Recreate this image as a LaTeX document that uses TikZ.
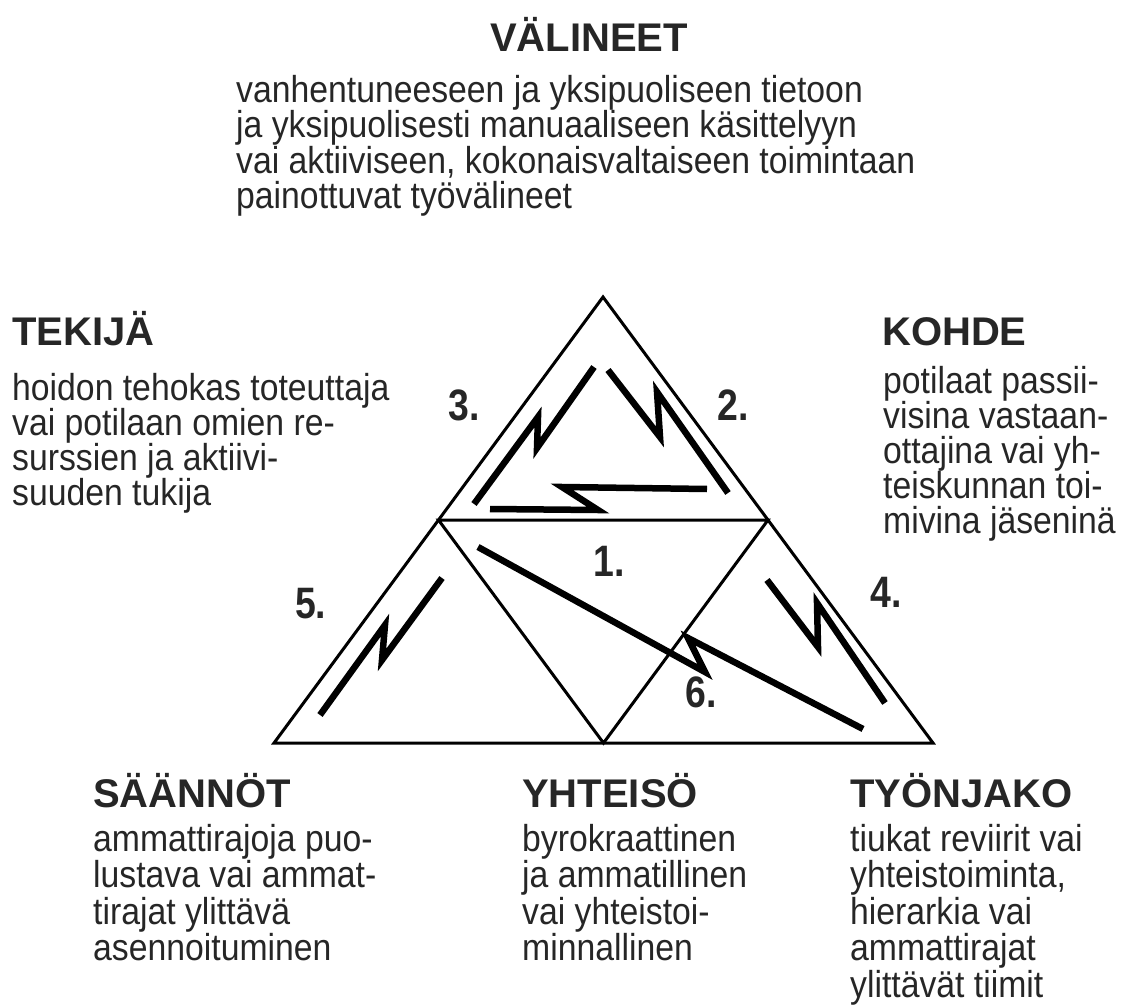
\documentclass[tikz,border=0pt]{standalone}
\usepackage{fontspec}
\setmainfont{Liberation Sans}
\newfontfamily\narrowfont[FakeStretch=0.9]{Liberation Sans}
\newfontfamily\numfont[FakeStretch=0.85]{Liberation Sans}
\usetikzlibrary{calc}

\begin{document}
\begin{tikzpicture}[x=1pt,y=-1pt,
  every node/.style={text=black!85},
  head/.style={anchor=base west,inner sep=0,font=\fontsize{40}{44}\selectfont\bfseries},
  body/.style={anchor=north west,inner sep=0,align=left,font=\narrowfont\fontsize{37.5}{35.5}\selectfont},
  num/.style={anchor=base west,inner sep=0,font=\numfont\fontsize{44}{48}\selectfont\bfseries},
  edge/.style={line width=3pt},
  bolt/.style={line width=6.5pt,line join=miter,miter limit=25}]

\useasboundingbox (0,0) rectangle (1121,1008);

\coordinate (A) at (603,297);
\coordinate (BL) at (274,743);
\coordinate (BR) at (933,743);
\coordinate (ML) at ($(A)!0.5!(BL)$);
\coordinate (MR) at ($(A)!0.5!(BR)$);
\coordinate (MB) at ($(BL)!0.5!(BR)$);

\draw[edge] (A) -- (BL) -- (BR) -- cycle;
\draw[edge] (ML) -- (MR) -- (MB) -- cycle;

% salamat
\draw[bolt] (474,504) -- (538,417) -- (537,448) -- (594,367);
\draw[bolt] (608,370) -- (660,437) -- (657,392) -- (728,493);
\draw[bolt] (707,489) -- (562,487) -- (598,510) -- (490,509);
\draw[bolt] (320,715) -- (385,625) -- (382,660) -- (442,578);
\draw[bolt] (767,580) -- (818,647) -- (817,603) -- (885,703);
\draw[bolt] (478,547) -- (705,672) -- (688,638) -- (863,729);

\node[num] (n1) at (593,576) {1.};
\node[num] (n2) at (717,420) {2.};
\node[num] (n3) at (448,420) {3.};
\node[num] (n4) at (870,607) {4.};
\node[num] (n5) at (295,618) {5.};
\node[num] (n6) at (685,707) {6.};

\node[head] (valineet) at (490,52) {VÄLINEET};
\node[body] (valineetTxt) at (236,75) {vanhentuneeseen ja yksipuoliseen tietoon\\ja yksipuolisesti manuaaliseen käsittelyyn\\vai aktiiviseen, kokonaisvaltaiseen toimintaan\\painottuvat työvälineet};

\node[head] (tekija) at (12,345) {TEKIJÄ};
\node[body,font=\narrowfont\fontsize{37.5}{35}\selectfont] (tekijaTxt) at (12,373) {hoidon tehokas toteuttaja\\vai potilaan omien re-\\surssien ja aktiivi-\\suuden tukija};

\node[head] (kohde) at (882,345) {KOHDE};
\node[body,font=\narrowfont\fontsize{37.5}{35}\selectfont] (kohdeTxt) at (883,366) {potilaat passii-\\visina vastaan-\\ottajina vai yh-\\teiskunnan toi-\\mivina jäseninä};

\node[head] (saannot) at (93,807) {SÄÄNNÖT};
\node[body,font=\narrowfont\fontsize{37.5}{36.5}\selectfont] (saannotTxt) at (93,824) {ammattirajoja puo-\\lustava vai ammat-\\tirajat ylittävä\\asennoituminen};

\node[head] (yhteiso) at (522,807) {YHTEISÖ};
\node[body,font=\narrowfont\fontsize{37.5}{36.5}\selectfont] (yhteisoTxt) at (522,824) {byrokraattinen\\ja ammatillinen\\vai yhteistoi-\\minnallinen};

\node[head] (tyonjako) at (850,807) {TYÖNJAKO};
\node[body,font=\narrowfont\fontsize{37.5}{36.5}\selectfont] (tyonjakoTxt) at (850,824) {tiukat reviirit vai\\yhteistoiminta,\\hierarkia vai\\ammattirajat\\ylittävät tiimit};

\end{tikzpicture}
\end{document}
